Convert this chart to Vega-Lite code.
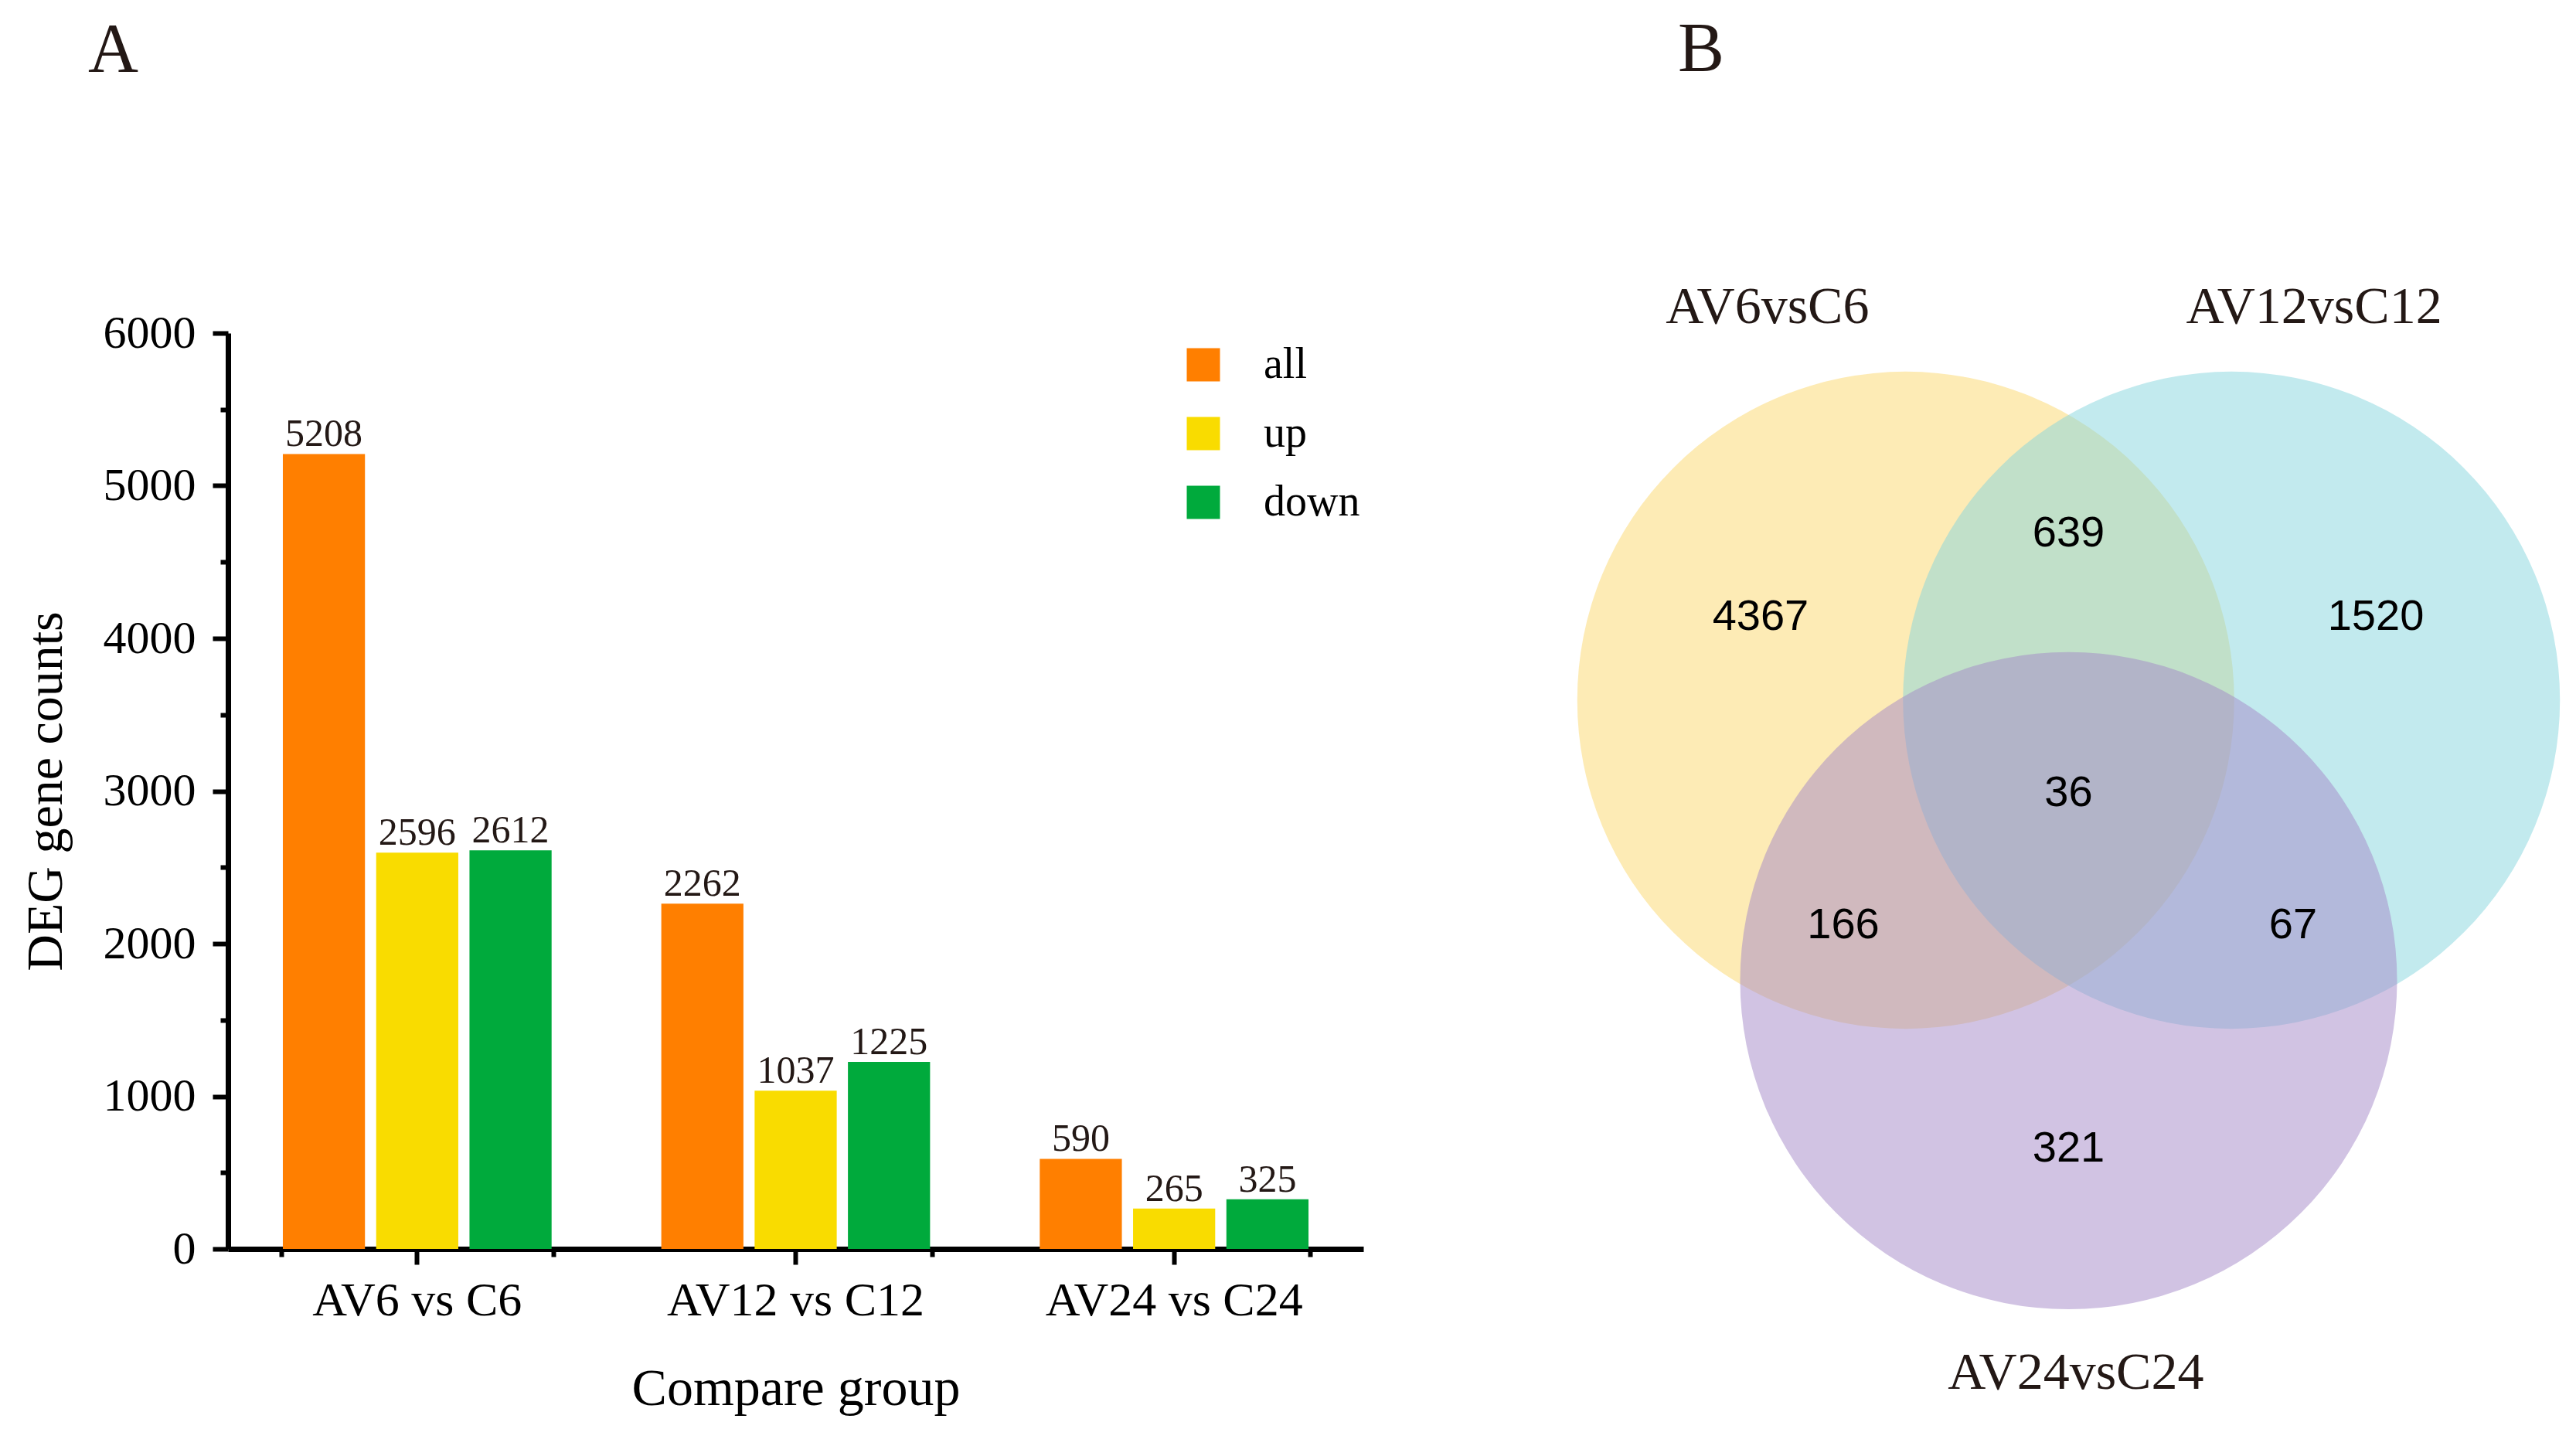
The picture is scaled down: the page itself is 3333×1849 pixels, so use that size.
{
  "$schema": "https://vega.github.io/schema/vega-lite/v6.json",
  "background": "white",
  "padding": {"left": 26, "top": 20, "right": 10, "bottom": 5},
  "spacing": 236,
  "bounds": "flush",
  "config": {"view": {"stroke": null}, "font": "Liberation Serif"},
  "resolve": {"scale": {"color": "independent"}},
  "datasets": {
    "bars": [
      {"group": "AV6 vs C6", "type": "all", "count": 5208},
      {"group": "AV6 vs C6", "type": "up", "count": 2596},
      {"group": "AV6 vs C6", "type": "down", "count": 2612},
      {"group": "AV12 vs C12", "type": "all", "count": 2262},
      {"group": "AV12 vs C12", "type": "up", "count": 1037},
      {"group": "AV12 vs C12", "type": "down", "count": 1225},
      {"group": "AV24 vs C24", "type": "all", "count": 590},
      {"group": "AV24 vs C24", "type": "up", "count": 265},
      {"group": "AV24 vs C24", "type": "down", "count": 325}
    ],
    "circles": [
      {"set": "AV6vsC6", "cx": -0.497, "cy": 0},
      {"set": "AV12vsC12", "cx": 0.497, "cy": 0},
      {"set": "AV24vsC24", "cx": 0, "cy": -0.856}
    ],
    "counts": [
      {"n": 4367, "px": -0.94, "py": 0.255},
      {"n": 639, "px": 0, "py": 0.509},
      {"n": 1520, "px": 0.9375, "py": 0.255},
      {"n": 36, "px": 0, "py": -0.283},
      {"n": 166, "px": -0.6875, "py": -0.686},
      {"n": 67, "px": 0.685, "py": -0.686},
      {"n": 321, "px": 0, "py": -1.368}
    ],
    "setlabels": [
      {"name": "AV6vsC6", "px": -0.919, "py": 1.198},
      {"name": "AV12vsC12", "px": 0.749, "py": 1.198},
      {"name": "AV24vsC24", "px": 0.022, "py": -2.054}
    ]
  },
  "hconcat": [
    {
      "width": 1469,
      "height": 1185,
      "title": {"text": "A", "anchor": "start", "frame": "group", "dx": -181, "offset": 289, "fontSize": 90, "font": "Liberation Serif", "fontWeight": "normal", "color": "#231815"},
      "data": {"name": "bars"},
      "layer": [
        {
          "mark": {"type": "bar"},
          "encoding": {
            "x": {"field": "group", "type": "nominal", "sort": ["AV6 vs C6", "AV12 vs C12", "AV24 vs C24"],
              "scale": {"paddingInner": 0.28, "paddingOuter": 0.14},
              "axis": {"orient": "bottom", "title": "Compare group", "titleFontSize": 68, "titleFont": "Liberation Serif", "titleFontWeight": "normal", "titleColor": "#000", "titlePadding": 50,
                "labelFontSize": 62, "labelFont": "Liberation Serif", "labelColor": "#000", "labelPadding": 16, "labelAngle": 0, "labelLimit": 0,
                "tickSize": 20, "tickWidth": 6, "tickColor": "#000", "domainWidth": 7, "domainColor": "#000", "grid": false}},
            "xOffset": {"field": "type", "type": "nominal", "sort": ["all", "up", "down"], "scale": {"paddingInner": 0.12, "paddingOuter": 0.02}},
            "y": {"field": "count", "type": "quantitative", "scale": {"domain": [0, 6000], "nice": false},
              "axis": {"orient": "left", "values": [0, 1000, 2000, 3000, 4000, 5000, 6000], "format": "d", "title": "DEG gene counts", "titleFontSize": 66, "titleFont": "Liberation Serif", "titleFontWeight": "normal", "titleColor": "#000", "titlePadding": 40,
                "labelFontSize": 60, "labelFont": "Liberation Serif", "labelColor": "#000", "labelPadding": 22,
                "tickSize": 20, "tickWidth": 6, "tickColor": "#000", "domainWidth": 7, "domainColor": "#000", "grid": false}},
            "color": {"field": "type", "type": "nominal", "sort": ["all", "up", "down"],
              "scale": {"domain": ["all", "up", "down"], "range": ["#FF7F00", "#F9DC00", "#00AA3C"]},
              "legend": {"orient": "none", "legendX": 1234, "legendY": 13, "title": null, "symbolType": "square", "symbolSize": 1849, "symbolStrokeWidth": 0, "symbolOpacity": 1,
                "labelFontSize": 56, "labelFont": "Liberation Serif", "labelColor": "#000", "labelOffset": 50, "rowPadding": 33}}
          }
        },
        {
          "mark": {"type": "text", "baseline": "alphabetic", "dy": -10, "fontSize": 50, "font": "Liberation Serif", "color": "#231815"},
          "encoding": {
            "x": {"field": "group", "type": "nominal", "sort": ["AV6 vs C6", "AV12 vs C12", "AV24 vs C24"],
              "scale": {"paddingInner": 0.28, "paddingOuter": 0.14},
              "axis": {"orient": "bottom", "tickBand": "extent", "labels": false, "domain": false, "title": null, "tickSize": 10, "tickWidth": 6, "tickColor": "#000", "grid": false}},
            "xOffset": {"field": "type", "type": "nominal", "sort": ["all", "up", "down"], "scale": {"paddingInner": 0.12, "paddingOuter": 0.02}},
            "y": {"field": "count", "type": "quantitative", "scale": {"domain": [0, 6000], "nice": false},
              "axis": {"orient": "left", "values": [500, 1500, 2500, 3500, 4500, 5500], "labels": false, "domain": false, "title": null, "tickSize": 10, "tickWidth": 6, "tickColor": "#000", "grid": false}},
            "text": {"field": "count", "type": "quantitative", "format": "d"}
          }
        }
      ],
      "resolve": {"scale": {"x": "independent", "y": "independent"}}
    },
    {
      "width": 1330,
      "height": 1185,
      "title": {"text": "B", "anchor": "start", "frame": "group", "dx": 171, "offset": 253, "fontSize": 90, "font": "Liberation Serif", "fontWeight": "normal", "color": "#231815"},
      "layer": [
        {
          "data": {"name": "circles"},
          "mark": {"type": "point", "shape": "circle", "filled": true, "size": 722500, "opacity": 0.5, "strokeWidth": 0},
          "encoding": {
            "x": {"field": "cx", "type": "quantitative", "scale": {"domain": [-1.5955, 1.5413], "nice": false, "zero": false}, "axis": null},
            "y": {"field": "cy", "type": "quantitative", "scale": {"domain": [-1.6745, 1.1203], "nice": false, "zero": false}, "axis": null},
            "color": {"field": "set", "type": "nominal", "scale": {"domain": ["AV6vsC6", "AV12vsC12", "AV24vsC24"], "range": ["#FBD76B", "#85D5DD", "#A387C7"]}, "legend": null}
          }
        },
        {
          "data": {"name": "counts"},
          "mark": {"type": "text", "font": "Liberation Sans", "fontSize": 56, "baseline": "middle", "align": "center", "color": "#000"},
          "encoding": {
            "x": {"field": "px", "type": "quantitative"},
            "y": {"field": "py", "type": "quantitative"},
            "text": {"field": "n", "type": "quantitative", "format": "d"}
          }
        },
        {
          "data": {"name": "setlabels"},
          "mark": {"type": "text", "font": "Liberation Serif", "fontSize": 68, "baseline": "middle", "align": "center", "color": "#231815"},
          "encoding": {
            "x": {"field": "px", "type": "quantitative"},
            "y": {"field": "py", "type": "quantitative"},
            "text": {"field": "name", "type": "nominal"}
          }
        }
      ]
    }
  ]
}
